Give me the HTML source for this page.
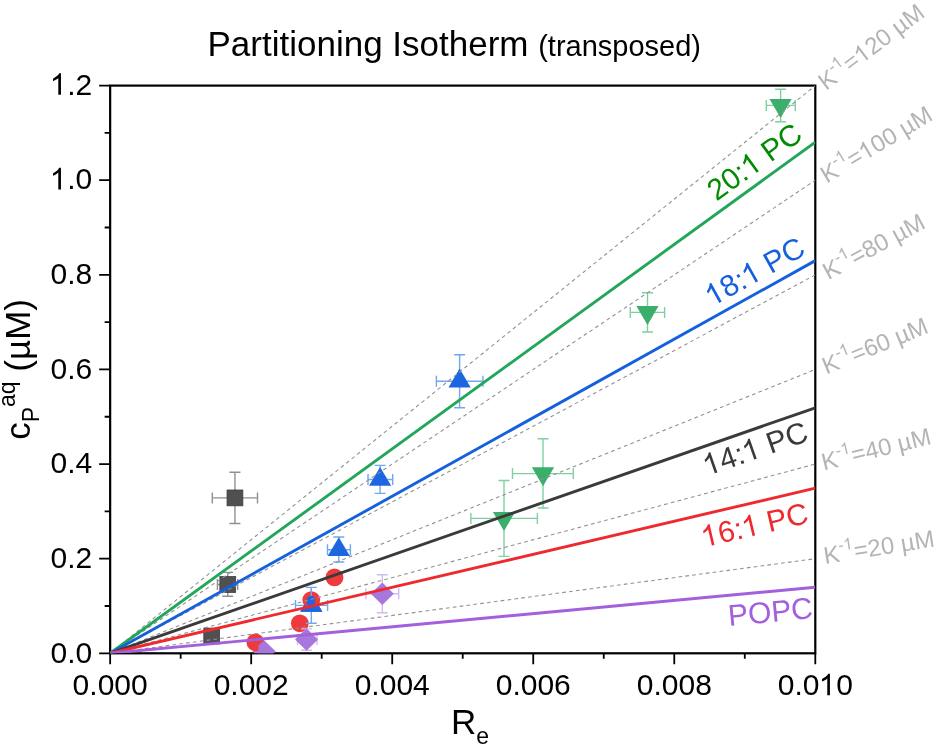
<!DOCTYPE html><html><head><meta charset="utf-8"><style>html,body{margin:0;padding:0;background:#fff;width:937px;height:747px;overflow:hidden;position:relative}</style></head><body><svg width="937" height="747" viewBox="0 0 937 747" style="position:absolute;left:0;top:0;will-change:transform">
<rect width="937" height="747" fill="#fff"/>
<defs><clipPath id="pc"><rect x="110.15" y="85.6" width="705.15" height="567.6999999999999"/></clipPath><clipPath id="t4c"><rect x="290" y="605.4" width="45" height="10"/></clipPath><clipPath id="c4c"><rect x="258.4" y="641.2" width="30" height="20"/></clipPath></defs>
<rect x="110.15" y="85.6" width="705.15" height="567.6999999999999" fill="none" stroke="#000" stroke-width="2.2"/>
<path d="M99.15 653.30H110.15M104.65 605.99H110.15M99.15 558.68H110.15M104.65 511.37H110.15M99.15 464.07H110.15M104.65 416.76H110.15M99.15 369.45H110.15M104.65 322.14H110.15M99.15 274.83H110.15M104.65 227.52H110.15M99.15 180.22H110.15M104.65 132.91H110.15M99.15 85.60H110.15M110.15 653.3V664.30M180.67 653.3V658.80M251.18 653.3V664.30M321.69 653.3V658.80M392.21 653.3V664.30M462.73 653.3V658.80M533.24 653.3V664.30M603.75 653.3V658.80M674.27 653.3V664.30M744.79 653.3V658.80M815.30 653.3V664.30" stroke="#000" stroke-width="1.8" fill="none"/>
<g clip-path="url(#pc)"><path d="M212.30 497.90H257.50M212.30 492.40V503.40M257.50 492.40V503.40M234.95 472.30V523.50M229.45 472.30H240.45M229.45 523.50H240.45" stroke="#909090" stroke-width="1.4" fill="none"/><path d="M217.40 584.50H237.70M217.40 579.00V590.00M237.70 579.00V590.00M227.75 572.40V596.30M222.25 572.40H233.25M222.25 596.30H233.25" stroke="#909090" stroke-width="1.4" fill="none"/><path d="" stroke="#909090" stroke-width="1.4" fill="none"/><rect x="227.05" y="490.00" width="15.8" height="15.8" fill="#505050" stroke="#3c3c3c" stroke-width="0.8"/><rect x="219.85" y="576.60" width="15.8" height="15.8" fill="#505050" stroke="#3c3c3c" stroke-width="0.8"/><rect x="203.80" y="628.10" width="15.8" height="15.8" fill="#505050" stroke="#3c3c3c" stroke-width="0.8"/><circle cx="334.5" cy="577.4" r="8.9" fill="#ee3a3c"/><circle cx="299.8" cy="623.3" r="8.9" fill="#ee3a3c"/><path d="M436.40 381.20H483.00M436.40 375.70V386.70M483.00 375.70V386.70M459.60 354.80V407.70M454.10 354.80H465.10M454.10 407.70H465.10" stroke="#6fa8f2" stroke-width="1.4" fill="none"/><path d="M368.00 479.50H392.70M368.00 474.00V485.00M392.70 474.00V485.00M380.10 465.40V493.40M374.60 465.40H385.60M374.60 493.40H385.60" stroke="#6fa8f2" stroke-width="1.4" fill="none"/><path d="M327.50 549.80H350.40M327.50 544.30V555.30M350.40 544.30V555.30M338.80 537.00V562.00M333.30 537.00H344.30M333.30 562.00H344.30" stroke="#6fa8f2" stroke-width="1.4" fill="none"/><path d="M295.50 605.40H327.60M295.50 599.90V610.90M327.60 599.90V610.90M311.30 587.40V623.30M305.80 587.40H316.80M305.80 623.30H316.80" stroke="#6fa8f2" stroke-width="1.4" fill="none"/><path d="M459.60 368.60L470.70 387.50L448.50 387.50Z" fill="#1d66df"/><path d="M380.10 466.90L391.20 485.80L369.00 485.80Z" fill="#1d66df"/><path d="M338.80 537.20L349.90 556.10L327.70 556.10Z" fill="#1d66df"/><path d="M311.30 592.80L322.40 611.70L300.20 611.70Z" fill="#1d66df"/><path d="M766.30 105.40H795.30M766.30 99.90V110.90M795.30 99.90V110.90M780.60 89.30V121.80M775.10 89.30H786.10M775.10 121.80H786.10" stroke="#7fd0a0" stroke-width="1.4" fill="none"/><path d="M630.30 312.40H664.60M630.30 306.90V317.90M664.60 306.90V317.90M647.50 292.80V332.00M642.00 292.80H653.00M642.00 332.00H653.00" stroke="#7fd0a0" stroke-width="1.4" fill="none"/><path d="M512.50 473.60H573.30M512.50 468.10V479.10M573.30 468.10V479.10M543.00 438.70V508.00M537.50 438.70H548.50M537.50 508.00H548.50" stroke="#7fd0a0" stroke-width="1.4" fill="none"/><path d="M470.90 518.40H537.40M470.90 512.90V523.90M537.40 512.90V523.90M504.00 480.50V556.40M498.50 480.50H509.50M498.50 556.40H509.50" stroke="#7fd0a0" stroke-width="1.4" fill="none"/><path d="M780.60 118.00L791.70 99.10L769.50 99.10Z" fill="#3aae6a"/><path d="M647.50 325.00L658.60 306.10L636.40 306.10Z" fill="#3aae6a"/><path d="M543.00 486.20L554.10 467.30L531.90 467.30Z" fill="#3aae6a"/><path d="M504.00 531.00L515.10 512.10L492.90 512.10Z" fill="#3aae6a"/><path d="M365.90 593.70H398.70M365.90 588.20V599.20M398.70 588.20V599.20M382.30 574.80V612.70M376.80 574.80H387.80M376.80 612.70H387.80" stroke="#d3b8f2" stroke-width="1.4" fill="none"/><path d="M297.50 639.60H317.00M297.50 634.10V645.10M317.00 634.10V645.10M306.50 628.90V650.30M301.00 628.90H312.00M301.00 650.30H312.00" stroke="#d3b8f2" stroke-width="1.4" fill="none"/><path d="" stroke="#d3b8f2" stroke-width="1.4" fill="none"/><path d="M382.30 582.45L393.80 593.70L382.30 604.95L370.80 593.70Z" fill="#a877dc"/><path d="M306.50 628.35L318.00 639.60L306.50 650.85L295.00 639.60Z" fill="#a877dc"/><path d="M264.00 640.25L275.50 651.50L264.00 662.75L252.50 651.50Z" fill="#a877dc"/><circle cx="311.3" cy="600.1" r="8.9" fill="#ee3a3c"/><path d="M307.1 605.6V599.2Q307.4 596 311.1 596Q314.8 596 315.1 599.2V605.6Z" fill="#1d66df"/><path d="M311.30 592.80L322.40 611.70L300.20 611.70Z" fill="#1d66df" clip-path="url(#t4c)"/><path d="M311.3 587.4V596" stroke="#6fa8f2" stroke-width="1.4"/><circle cx="255.4" cy="642.3" r="8.9" fill="#ee3a3c"/><path d="M264.00 640.25L275.50 651.50L264.00 662.75L252.50 651.50Z" fill="#a877dc" clip-path="url(#c4c)"/></g>
<g clip-path="url(#pc)">
<line x1="110.15" y1="653.3" x2="815.3" y2="558.68" stroke="#929292" stroke-width="1.1" stroke-dasharray="3.7 3.2" stroke-dashoffset="-0.7"/>
<line x1="110.15" y1="653.3" x2="815.3" y2="464.07" stroke="#929292" stroke-width="1.1" stroke-dasharray="3.7 3.2" stroke-dashoffset="-0.9"/>
<line x1="110.15" y1="653.3" x2="815.3" y2="369.45" stroke="#929292" stroke-width="1.1" stroke-dasharray="3.7 3.2" stroke-dashoffset="-1.9"/>
<line x1="110.15" y1="653.3" x2="815.3" y2="274.83" stroke="#929292" stroke-width="1.1" stroke-dasharray="3.7 3.2" stroke-dashoffset="-3.0"/>
<line x1="110.15" y1="653.3" x2="815.3" y2="180.22" stroke="#929292" stroke-width="1.1" stroke-dasharray="3.7 3.2" stroke-dashoffset="2.3"/>
<line x1="110.15" y1="653.3" x2="815.3" y2="85.60" stroke="#929292" stroke-width="1.1" stroke-dasharray="3.7 3.2" stroke-dashoffset="0.5"/>
<line x1="110.15" y1="653.3" x2="815.3" y2="142.18" stroke="#22a65a" stroke-width="2.9"/>
<line x1="110.15" y1="653.3" x2="815.3" y2="260.64" stroke="#1560dc" stroke-width="2.9"/>
<line x1="110.15" y1="653.3" x2="815.3" y2="407.77" stroke="#3a3a3a" stroke-width="2.9"/>
<line x1="110.15" y1="653.3" x2="815.3" y2="488.19" stroke="#ee2a2e" stroke-width="2.9"/>
<line x1="110.15" y1="653.3" x2="815.3" y2="587.21" stroke="#a35fdc" stroke-width="2.9"/>
</g>
<g font-family='"Liberation Sans", sans-serif'>
<g transform="translate(92.20 662.50)"><text x="-41.70" y="0.00" font-size="30" fill="#000" xml:space="preserve">0.0</text></g>
<g transform="translate(92.20 567.88)"><text x="-41.70" y="0.00" font-size="30" fill="#000" xml:space="preserve">0.2</text></g>
<g transform="translate(92.20 473.27)"><text x="-41.70" y="0.00" font-size="30" fill="#000" xml:space="preserve">0.4</text></g>
<g transform="translate(92.20 378.65)"><text x="-41.70" y="0.00" font-size="30" fill="#000" xml:space="preserve">0.6</text></g>
<g transform="translate(92.20 284.03)"><text x="-41.70" y="0.00" font-size="30" fill="#000" xml:space="preserve">0.8</text></g>
<g transform="translate(92.20 189.42)"><text x="-41.70" y="0.00" font-size="30" fill="#000" xml:space="preserve"> .0</text><path d="M713 0H533V1147Q468 1085 362 1023Q256 961 172 930V1104Q323 1175 436 1276Q549 1377 596 1472H713Z" transform="translate(-41.70 0.00) scale(0.01465 -0.01465)" fill="#000"/></g>
<g transform="translate(92.20 94.80)"><text x="-41.70" y="0.00" font-size="30" fill="#000" xml:space="preserve"> .2</text><path d="M713 0H533V1147Q468 1085 362 1023Q256 961 172 930V1104Q323 1175 436 1276Q549 1377 596 1472H713Z" transform="translate(-41.70 0.00) scale(0.01465 -0.01465)" fill="#000"/></g>
<g transform="translate(110.15 695.20)"><text x="-37.54" y="0.00" font-size="30" fill="#000" xml:space="preserve">0.000</text></g>
<g transform="translate(251.18 695.20)"><text x="-37.54" y="0.00" font-size="30" fill="#000" xml:space="preserve">0.002</text></g>
<g transform="translate(392.21 695.20)"><text x="-37.54" y="0.00" font-size="30" fill="#000" xml:space="preserve">0.004</text></g>
<g transform="translate(533.24 695.20)"><text x="-37.54" y="0.00" font-size="30" fill="#000" xml:space="preserve">0.006</text></g>
<g transform="translate(674.27 695.20)"><text x="-37.54" y="0.00" font-size="30" fill="#000" xml:space="preserve">0.008</text></g>
<g transform="translate(815.30 695.20)"><text x="-37.54" y="0.00" font-size="30" fill="#000" xml:space="preserve">0.0 0</text><path d="M713 0H533V1147Q468 1085 362 1023Q256 961 172 930V1104Q323 1175 436 1276Q549 1377 596 1472H713Z" transform="translate(4.17 0.00) scale(0.01465 -0.01465)" fill="#000"/></g>
<g transform="translate(207.50 56.00)"><text x="0.00" y="0.00" font-size="35" fill="#000" xml:space="preserve">Partitioning Isotherm </text><text x="330.71" y="0.00" font-size="29" fill="#000" xml:space="preserve">(transposed)</text></g>
<g transform="translate(451.00 734.10)"><text x="0.00" y="0.00" font-size="35" fill="#000" xml:space="preserve">R</text><text x="25.28" y="9.80" font-size="23" fill="#000" xml:space="preserve">e</text></g>
<g transform="translate(29.70 439.80) rotate(-90.00)"><text x="0.00" y="0.00" font-size="35" fill="#000" xml:space="preserve">c</text><text x="17.50" y="9.30" font-size="23" fill="#000" xml:space="preserve">P</text><text x="32.84" y="-14.70" font-size="23" fill="#000" xml:space="preserve">aq</text><text x="58.42" y="0.00" font-size="35" fill="#000" xml:space="preserve"> (µM)</text></g>
<g transform="translate(716.60 201.80) rotate(-35.94)"><text x="0.00" y="0.00" font-size="30" fill="#008c00" xml:space="preserve">20:  PC</text><path d="M713 0H533V1147Q468 1085 362 1023Q256 961 172 930V1104Q323 1175 436 1276Q549 1377 596 1472H713Z" transform="translate(41.70 0.00) scale(0.01465 -0.01465)" fill="#008c00"/></g>
<g transform="translate(712.50 306.70) rotate(-29.11)"><text x="0.00" y="0.00" font-size="30" fill="#1560dc" xml:space="preserve"> 8:  PC</text><path d="M713 0H533V1147Q468 1085 362 1023Q256 961 172 930V1104Q323 1175 436 1276Q549 1377 596 1472H713Z" transform="translate(0.00 0.00) scale(0.01465 -0.01465)" fill="#1560dc"/><path d="M713 0H533V1147Q468 1085 362 1023Q256 961 172 930V1104Q323 1175 436 1276Q549 1377 596 1472H713Z" transform="translate(41.70 0.00) scale(0.01465 -0.01465)" fill="#1560dc"/></g>
<g transform="translate(707.50 475.90) rotate(-19.20)"><text x="0.00" y="0.00" font-size="30" fill="#3a3a3a" xml:space="preserve"> 4:  PC</text><path d="M713 0H533V1147Q468 1085 362 1023Q256 961 172 930V1104Q323 1175 436 1276Q549 1377 596 1472H713Z" transform="translate(0.00 0.00) scale(0.01465 -0.01465)" fill="#3a3a3a"/><path d="M713 0H533V1147Q468 1085 362 1023Q256 961 172 930V1104Q323 1175 436 1276Q549 1377 596 1472H713Z" transform="translate(41.70 0.00) scale(0.01465 -0.01465)" fill="#3a3a3a"/></g>
<g transform="translate(704.30 547.40) rotate(-13.18)"><text x="0.00" y="0.00" font-size="30" fill="#ee2a2e" xml:space="preserve"> 6:  PC</text><path d="M713 0H533V1147Q468 1085 362 1023Q256 961 172 930V1104Q323 1175 436 1276Q549 1377 596 1472H713Z" transform="translate(0.00 0.00) scale(0.01465 -0.01465)" fill="#ee2a2e"/><path d="M713 0H533V1147Q468 1085 362 1023Q256 961 172 930V1104Q323 1175 436 1276Q549 1377 596 1472H713Z" transform="translate(41.70 0.00) scale(0.01465 -0.01465)" fill="#ee2a2e"/></g>
<g transform="translate(729.00 626.00) rotate(-5.35)"><text x="0.00" y="0.00" font-size="30" fill="#a35fdc" xml:space="preserve">POPC</text></g>
<g transform="translate(826.10 91.00) rotate(-37.00)"><text x="0.00" y="0.00" font-size="24" fill="#b4b4b4" xml:space="preserve">K</text><text x="16.01" y="-10.50" font-size="16.5" fill="#b4b4b4" xml:space="preserve">- </text><path d="M713 0H533V1147Q468 1085 362 1023Q256 961 172 930V1104Q323 1175 436 1276Q549 1377 596 1472H713Z" transform="translate(21.50 -10.50) scale(0.00806 -0.00806)" fill="#b4b4b4"/><text x="30.68" y="0.00" font-size="24" fill="#b4b4b4" xml:space="preserve">= 20 µM</text><path d="M713 0H533V1147Q468 1085 362 1023Q256 961 172 930V1104Q323 1175 436 1276Q549 1377 596 1472H713Z" transform="translate(44.69 0.00) scale(0.01172 -0.01172)" fill="#b4b4b4"/></g>
<g transform="translate(826.70 183.70) rotate(-31.00)"><text x="0.00" y="0.00" font-size="24" fill="#b4b4b4" xml:space="preserve">K</text><text x="16.01" y="-10.50" font-size="16.5" fill="#b4b4b4" xml:space="preserve">- </text><path d="M713 0H533V1147Q468 1085 362 1023Q256 961 172 930V1104Q323 1175 436 1276Q549 1377 596 1472H713Z" transform="translate(21.50 -10.50) scale(0.00806 -0.00806)" fill="#b4b4b4"/><text x="30.68" y="0.00" font-size="24" fill="#b4b4b4" xml:space="preserve">= 00 µM</text><path d="M713 0H533V1147Q468 1085 362 1023Q256 961 172 930V1104Q323 1175 436 1276Q549 1377 596 1472H713Z" transform="translate(44.69 0.00) scale(0.01172 -0.01172)" fill="#b4b4b4"/></g>
<g transform="translate(828.20 280.20) rotate(-28.20)"><text x="0.00" y="0.00" font-size="24" fill="#b4b4b4" xml:space="preserve">K</text><text x="16.01" y="-10.50" font-size="16.5" fill="#b4b4b4" xml:space="preserve">- </text><path d="M713 0H533V1147Q468 1085 362 1023Q256 961 172 930V1104Q323 1175 436 1276Q549 1377 596 1472H713Z" transform="translate(21.50 -10.50) scale(0.00806 -0.00806)" fill="#b4b4b4"/><text x="30.68" y="0.00" font-size="24" fill="#b4b4b4" xml:space="preserve">=80 µM</text></g>
<g transform="translate(826.30 374.50) rotate(-22.20)"><text x="0.00" y="0.00" font-size="24" fill="#b4b4b4" xml:space="preserve">K</text><text x="16.01" y="-10.50" font-size="16.5" fill="#b4b4b4" xml:space="preserve">- </text><path d="M713 0H533V1147Q468 1085 362 1023Q256 961 172 930V1104Q323 1175 436 1276Q549 1377 596 1472H713Z" transform="translate(21.50 -10.50) scale(0.00806 -0.00806)" fill="#b4b4b4"/><text x="30.68" y="0.00" font-size="24" fill="#b4b4b4" xml:space="preserve">=60 µM</text></g>
<g transform="translate(823.80 470.40) rotate(-13.80)"><text x="0.00" y="0.00" font-size="24" fill="#b4b4b4" xml:space="preserve">K</text><text x="16.01" y="-10.50" font-size="16.5" fill="#b4b4b4" xml:space="preserve">- </text><path d="M713 0H533V1147Q468 1085 362 1023Q256 961 172 930V1104Q323 1175 436 1276Q549 1377 596 1472H713Z" transform="translate(21.50 -10.50) scale(0.00806 -0.00806)" fill="#b4b4b4"/><text x="30.68" y="0.00" font-size="24" fill="#b4b4b4" xml:space="preserve">=40 µM</text></g>
<g transform="translate(824.90 563.90) rotate(-9.00)"><text x="0.00" y="0.00" font-size="24" fill="#b4b4b4" xml:space="preserve">K</text><text x="16.01" y="-10.50" font-size="16.5" fill="#b4b4b4" xml:space="preserve">- </text><path d="M713 0H533V1147Q468 1085 362 1023Q256 961 172 930V1104Q323 1175 436 1276Q549 1377 596 1472H713Z" transform="translate(21.50 -10.50) scale(0.00806 -0.00806)" fill="#b4b4b4"/><text x="30.68" y="0.00" font-size="24" fill="#b4b4b4" xml:space="preserve">=20 µM</text></g>
</g>
</svg></body></html>
